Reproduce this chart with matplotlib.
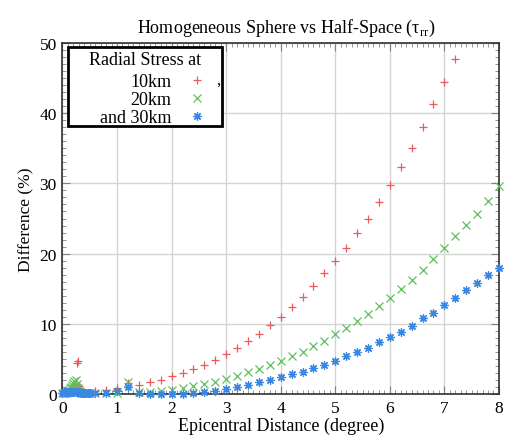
import numpy as np
import matplotlib
matplotlib.use("Agg")
import matplotlib.pyplot as plt
from matplotlib.ticker import MultipleLocator
from matplotlib.patches import Rectangle

plt.rcParams['font.family'] = ['Liberation Serif', 'DejaVu Serif']
plt.rcParams['mathtext.fontset'] = 'custom'
plt.rcParams['mathtext.rm'] = 'Liberation Serif'

# near-source samples (dense)
x_near = [0.00, 0.02, 0.04, 0.06, 0.08, 0.10, 0.12, 0.14, 0.16, 0.18, 0.20, 0.22, 0.24,
          0.26, 0.28, 0.30, 0.32, 0.34, 0.36, 0.38, 0.40, 0.42, 0.44, 0.46, 0.48, 0.50]
r10_near = [0.1, 0.1, 0.2, 0.2, 0.2, 0.3, 0.3, 0.4, 0.5, 0.6, 0.8, 1.0, 1.4,
            4.4, 4.7, 1.2, 0.8, 0.4, 0.3, 0.2, 0.2, 0.1, 0.1, 0.1, 0.1, 0.1]
r20_near = [0.1, 0.1, 0.2, 0.2, 0.3, 0.4, 0.6, 0.8, 1.0, 1.3, 1.6, 1.8, 2.0,
            1.4, 0.8, 0.5, 0.3, 0.2, 0.2, 0.1, 0.1, 0.1, 0.1, 0.1, 0.1, 0.1]
r30_near = [0.2, 0.3, 0.3, 0.3, 0.3, 0.3, 0.3, 0.3, 0.3, 0.3, 0.3, 0.3, 0.3,
            0.3, 0.3, 0.3, 0.3, 0.2, 0.2, 0.2, 0.2, 0.2, 0.2, 0.2, 0.1, 0.1]

# regular samples every 0.2 degree
x_far = [0.6, 0.8, 1.0, 1.2, 1.4, 1.6, 1.8, 2.0, 2.2, 2.4, 2.6, 2.8, 3.0, 3.2, 3.4, 3.6,
         3.8, 4.0, 4.2, 4.4, 4.6, 4.8, 5.0, 5.2, 5.4, 5.6, 5.8, 6.0, 6.2, 6.4, 6.6, 6.8,
         7.0, 7.2, 7.4, 7.6, 7.8, 8.0]
r10_far = [0.4, 0.6, 0.9, 1.6, 1.3, 1.7, 2.0, 2.5, 3.0, 3.5, 4.1, 4.8, 5.7, 6.5, 7.5, 8.6,
           9.8, 11.0, 12.4, 13.8, 15.4, 17.2, 18.9, 20.8, 22.9, 25.0, 27.3, 29.8, 32.4, 35.1,
           38.1, 41.3, 44.4, 47.7]
r20_far = [0.1, 0.1, 0.2, 1.7, 0.25, 0.25, 0.4, 0.6, 0.8, 1.1, 1.4, 1.75, 2.1, 2.6, 3.1,
           3.55, 4.1, 4.7, 5.4, 6.0, 6.8, 7.6, 8.5, 9.45, 10.4, 11.4, 12.5, 13.7, 15.0, 16.3,
           17.7, 19.2, 20.8, 22.5, 24.1, 25.7, 27.5, 29.7]
r30_far = [0.1, 0.1, 0.5, 0.95, 0.1, 0.05, 0.0, 0.0, 0.0, 0.1, 0.25, 0.4, 0.7, 0.95, 1.3,
           1.7, 2.05, 2.4, 2.8, 3.2, 3.7, 4.2, 4.7, 5.4, 6.0, 6.6, 7.4, 8.1, 8.9, 9.7, 10.8,
           11.6, 12.7, 13.7, 14.8, 15.8, 17.0, 17.9]

labels = ["10km", "20km", "and 30km"]
colors = ["#ee5a5a", "#5cc05c", "#3a88e2"]
markers = ["+", "x", (8, 2, 0)]

x10 = x_near + x_far[:len(r10_far)]
series = [(x10, r10_near + r10_far),
          (x_near + x_far, r20_near + r20_far),
          (x_near + x_far, r30_near + r30_far)]

fig = plt.figure(figsize=(5.06, 4.39), dpi=100)
ax = fig.add_axes([0.1235, 0.1002, 0.8625, 0.7996])

for (xs, ys), lab, c, m in zip(series, labels, colors, markers):
    ax.plot(xs, ys, linestyle="none", marker=m, color=c, markersize=6,
            markeredgewidth=0.9, label=lab, clip_on=False, zorder=3)

ax.set_xlim(0, 8)
ax.set_ylim(0, 50)
ax.xaxis.set_major_locator(MultipleLocator(1))
ax.xaxis.set_minor_locator(MultipleLocator(0.1))
ax.yaxis.set_major_locator(MultipleLocator(10))
ax.yaxis.set_minor_locator(MultipleLocator(1))
ax.grid(True, which="major", color="#d4d4d4", linewidth=1.0)
ax.set_axisbelow(True)
ax.tick_params(which="both", direction="in", top=True, right=True, color="#808080",
               labelsize=12.5, pad=4)
ax.tick_params(which="major", length=6)
ax.tick_params(which="minor", length=3)
for s in ax.spines.values():
    s.set_color("#303030")
    s.set_linewidth(1.2)

ax.set_title(r"Homogeneous Sphere vs Half-Space (τ$_{\rm rr}$)", fontsize=13, pad=8,
             x=0.5126)
ax.set_xlabel("Epicentral Distance (degree)", fontsize=13, labelpad=1)
ax.set_ylabel("Difference (%)", fontsize=12.5, labelpad=4)

# legend: gnuplot style, text right-aligned, sample to the right
leg = ax.legend(loc="upper right", bbox_to_anchor=(0.338, 0.915), markerfirst=False,
                frameon=False, fontsize=13, labelspacing=0.06, handlelength=1.4,
                handletextpad=0.75, borderpad=0, borderaxespad=0)
ax.add_patch(Rectangle((0.0126, 0.763), 0.352, 0.226, transform=ax.transAxes,
                       facecolor="white", edgecolor="black", linewidth=2, zorder=4))
leg.set_zorder(5)
ax.text(0.189, 0.954, "Radial Stress at", transform=ax.transAxes, fontsize=13,
        ha="center", va="center", zorder=6)
ax.text(0.352, 0.885, ",", transform=ax.transAxes, fontsize=12, zorder=6)

fig.savefig("out.png", dpi=100)
